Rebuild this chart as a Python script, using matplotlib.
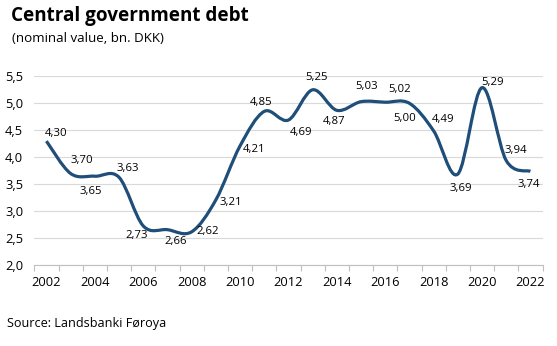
import numpy as np
import matplotlib.pyplot as plt
from matplotlib.path import Path
from matplotlib.patches import PathPatch

plt.rcParams['font.family'] = ['Open Sans', 'DejaVu Sans']

# Central government debt, bn. DKK
years = list(range(2002, 2023))
debt = [4.30, 3.70, 3.65, 3.63, 2.73, 2.66, 2.62, 3.21, 4.21, 4.85, 4.69,
        5.25, 4.87, 5.03, 5.02, 5.00, 4.49, 3.69, 5.29, 3.94, 3.74]
tick_years = years[::2]
y_ticks = [2.0, 2.5, 3.0, 3.5, 4.0, 4.5, 5.0, 5.5]

# label offsets in pixels (dx, dy)
label_offsets = [(10, 8), (11, 13), (-4, -15), (9, 9), (-7, -10), (8, -12),
                 (16, 0), (15, -3), (14, -4), (-3, 9), (13, -12), (4, 12),
                 (-3, -11), (6, 15), (14, 13), (-5, -15), (10, 11), (3, -14),
                 (11, 5), (10, 10), (-2, -13)]

line_color = '#1f4e79'

fig = plt.figure(figsize=(5.57, 3.46), dpi=100)
ax = fig.add_axes([0.0616, 0.2332, 0.9124, 0.5463])

# smoothed line (Excel style bezier through the points)
x = np.arange(len(debt), dtype=float)
y = np.array(debt)
verts = [(x[0], y[0])]
codes = [Path.MOVETO]
for i in range(len(x) - 1):
    p0 = (x[max(i - 1, 0)], y[max(i - 1, 0)])
    p1 = (x[i], y[i])
    p2 = (x[i + 1], y[i + 1])
    p3 = (x[min(i + 2, len(x) - 1)], y[min(i + 2, len(x) - 1)])
    c1 = (p1[0] + (p2[0] - p0[0]) / 6, p1[1] + (p2[1] - p0[1]) / 6)
    c2 = (p2[0] - (p3[0] - p1[0]) / 6, p2[1] - (p3[1] - p1[1]) / 6)
    verts += [c1, c2, p2]
    codes += [Path.CURVE4] * 3
ax.add_patch(PathPatch(Path(verts, codes), facecolor='none', edgecolor=line_color,
                       lw=2.3, capstyle='butt', joinstyle='round', zorder=3))

for i, v in enumerate(debt):
    dx, dy = label_offsets[i]
    ax.annotate(f'{v:.2f}'.replace('.', ','), (i, v), xytext=(dx * 0.72, dy * 0.72),
                textcoords='offset points', ha='center', va='center',
                fontsize=8.2, color='#000000', zorder=4)

ax.set_xlim(-0.5, len(debt) - 0.5)
ax.set_ylim(2.0, 5.5)
ax.set_yticks(y_ticks)
ax.set_yticklabels([f'{t:.1f}'.replace('.', ',') for t in y_ticks])
ax.yaxis.grid(True, color='#d9d9d9', lw=0.8)
ax.set_axisbelow(True)

ax.set_xticks([years.index(t) for t in tick_years])
ax.set_xticklabels([str(t) for t in tick_years])
ax.set_xticks(np.arange(-0.5, len(debt), 1.0), minor=True)
ax.tick_params(axis='x', which='major', length=0, pad=8, labelsize=9.3, colors='#000000')
ax.tick_params(axis='x', which='minor', length=4, color='#bfbfbf', width=0.8)
ax.tick_params(axis='y', length=0, pad=8, labelsize=9.3)

for s in ['top', 'right', 'left']:
    ax.spines[s].set_visible(False)
ax.spines['bottom'].set_color('#bfbfbf')
ax.spines['bottom'].set_linewidth(0.8)

fig.text(0.02, 0.955, 'Central government debt', fontsize=13.6, fontweight='bold',
         va='center', ha='left')
fig.text(0.021, 0.89, '(nominal value, bn. DKK)', fontsize=9.6, va='center', ha='left')
fig.text(0.013, 0.065, 'Source: Landsbanki Føroya', fontsize=9.1, va='center', ha='left')

fig.savefig('out.png', dpi=100)
